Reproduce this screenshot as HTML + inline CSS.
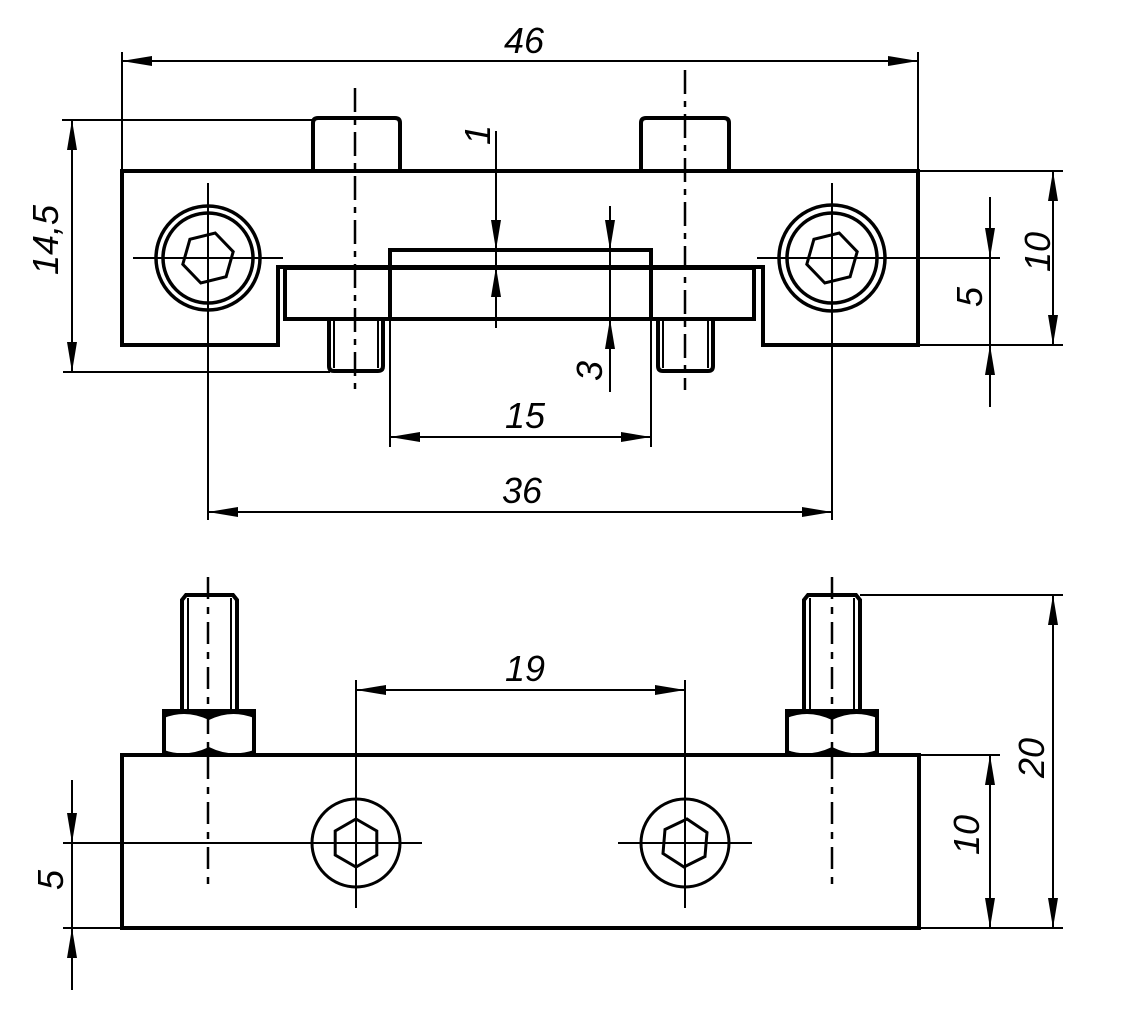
<!DOCTYPE html>
<html>
<head>
<meta charset="utf-8">
<style>
html,body{margin:0;padding:0;background:#fff;}
svg{display:block;}
text{font-family:"Liberation Sans",sans-serif;font-style:italic;font-size:36px;fill:#000;}
</style>
</head>
<body>
<svg width="1131" height="1023" viewBox="0 0 1131 1023" xmlns="http://www.w3.org/2000/svg">
<rect width="1131" height="1023" fill="#fff"/>

<!-- ================= TOP VIEW ================= -->
<g fill="none" stroke="#000" stroke-width="2">
  <!-- 46 dimension -->
  <line x1="122" y1="61" x2="918" y2="61"/>
  <line x1="122" y1="52" x2="122" y2="171"/>
  <line x1="918" y1="52" x2="918" y2="171"/>
  <!-- 14,5 dimension -->
  <line x1="62" y1="120" x2="313" y2="120"/>
  <line x1="63" y1="372" x2="330" y2="372"/>
  <line x1="72" y1="120" x2="72" y2="372"/>
  <!-- 1 dimension -->
  <line x1="496" y1="131" x2="496" y2="328"/>
  <!-- 3 dimension -->
  <line x1="610" y1="206" x2="610" y2="392"/>
  <!-- 15 dimension -->
  <line x1="390" y1="437" x2="651" y2="437"/>
  <line x1="390" y1="319" x2="390" y2="447"/>
  <line x1="651" y1="319" x2="651" y2="447"/>
  <!-- 36 dimension / screw vertical center lines -->
  <line x1="208" y1="512" x2="832" y2="512"/>
  <line x1="208" y1="183" x2="208" y2="520"/>
  <line x1="832" y1="183" x2="832" y2="520"/>
  <!-- screw horizontal center lines -->
  <line x1="133" y1="258" x2="283" y2="258"/>
  <line x1="757" y1="258" x2="1000" y2="258"/>
  <!-- 10 dimension right -->
  <line x1="920" y1="171" x2="1063" y2="171"/>
  <line x1="920" y1="345" x2="1063" y2="345"/>
  <line x1="1053" y1="171" x2="1053" y2="345"/>
  <!-- 5 dimension right -->
  <line x1="990" y1="197" x2="990" y2="407"/>
  <!-- dash-dot center lines -->
  <line x1="355" y1="88" x2="355" y2="390" stroke-width="2.5" stroke-dasharray="24 7 6 7"/>
  <line x1="685" y1="70" x2="685" y2="390" stroke-width="2.5" stroke-dasharray="24 7 6 7"/>
</g>

<g fill="none" stroke="#000" stroke-width="4" stroke-linejoin="miter">
  <!-- body -->
  <path d="M122,345 L122,171 L918,171 L918,345 L763,345 L763,267 L278,267 L278,345 Z"/>
  <!-- inner bar -->
  <rect x="285" y="268" width="469" height="51"/>
  <!-- upper block -->
  <path d="M390,319 L390,250 L651,250 L651,319"/>
  <!-- top pins -->
  <path d="M313,171 L313,123 Q313,118 318,118 L395,118 Q400,118 400,123 L400,171"/>
  <path d="M641,171 L641,123 Q641,118 646,118 L724,118 Q729,118 729,123 L729,171"/>
  <!-- lower pins -->
  <path d="M329,319 L329,366 Q329,371 334,371 L378,371 Q383,371 383,366 L383,319"/>
  <path d="M658,319 L658,366 Q658,371 663,371 L708,371 Q713,371 713,366 L713,319"/>
</g>
<g fill="none" stroke="#000" stroke-width="2">
  <line x1="334" y1="319" x2="334" y2="368"/>
  <line x1="378" y1="319" x2="378" y2="368"/>
  <line x1="663" y1="319" x2="663" y2="368"/>
  <line x1="708" y1="319" x2="708" y2="368"/>
</g>

<!-- top-view screws -->
<g fill="none" stroke="#000" stroke-width="3.5">
  <circle cx="208" cy="258" r="52"/>
  <circle cx="208" cy="258" r="45"/>
  <polygon points="215.2,233 233.2,251.7 226.1,276.7 200.8,283 182.8,264.3 189.9,239.3" stroke-width="3"/>
  <circle cx="832" cy="258" r="53"/>
  <circle cx="832" cy="258" r="45"/>
  <polygon points="839.2,233 857.2,251.7 850.1,276.7 824.8,283 806.8,264.3 813.9,239.3" stroke-width="3"/>
</g>

<!-- top-view arrows -->
<g fill="#000" stroke="none">
  <polygon points="122,61 152,56 152,66"/>
  <polygon points="918,61 888,56 888,66"/>
  <polygon points="72,120 67,150 77,150"/>
  <polygon points="72,372 67,342 77,342"/>
  <polygon points="496,250 491,220 501,220"/>
  <polygon points="496,267 491,297 501,297"/>
  <polygon points="610,250 605,220 615,220"/>
  <polygon points="610,319 605,349 615,349"/>
  <polygon points="390,437 420,432 420,442"/>
  <polygon points="651,437 621,432 621,442"/>
  <polygon points="208,512 238,507 238,517"/>
  <polygon points="832,512 802,507 802,517"/>
  <polygon points="1053,171 1048,201 1058,201"/>
  <polygon points="1053,345 1048,315 1058,315"/>
  <polygon points="990,258 985,228 995,228"/>
  <polygon points="990,345 985,375 995,375"/>
</g>

<!-- top-view texts -->
<text x="524" y="53" text-anchor="middle">46</text>
<text transform="translate(45,240) rotate(-90)" text-anchor="middle" dy="13">14,5</text>
<text transform="translate(477,135) rotate(-90)" text-anchor="middle" dy="13">1</text>
<text transform="translate(589,371) rotate(-90)" text-anchor="middle" dy="13">3</text>
<text x="525" y="428" text-anchor="middle">15</text>
<text x="522" y="503" text-anchor="middle">36</text>
<text transform="translate(1037,252) rotate(-90)" text-anchor="middle" dy="13">10</text>
<text transform="translate(969,297) rotate(-90)" text-anchor="middle" dy="13">5</text>

<!-- ================= BOTTOM VIEW ================= -->
<g fill="none" stroke="#000" stroke-width="2">
  <!-- 19 dimension -->
  <line x1="356" y1="690" x2="685" y2="690"/>
  <line x1="356" y1="680" x2="356" y2="908"/>
  <line x1="685" y1="680" x2="685" y2="908"/>
  <!-- horizontal center lines -->
  <line x1="63" y1="843" x2="422" y2="843"/>
  <line x1="618" y1="843" x2="752" y2="843"/>
  <!-- 5 left -->
  <line x1="72" y1="780" x2="72" y2="990"/>
  <line x1="63" y1="928" x2="122" y2="928"/>
  <!-- 10 right -->
  <line x1="920" y1="755" x2="1000" y2="755"/>
  <line x1="990" y1="755" x2="990" y2="928"/>
  <!-- 20 -->
  <line x1="860" y1="595" x2="1063" y2="595"/>
  <line x1="920" y1="928" x2="1063" y2="928"/>
  <line x1="1053" y1="595" x2="1053" y2="928"/>
  <!-- dash-dot center lines -->
  <line x1="208" y1="577" x2="208" y2="885" stroke-width="2.5" stroke-dasharray="22 8 7 8"/>
  <line x1="832" y1="577" x2="832" y2="885" stroke-width="2.5" stroke-dasharray="22 8 7 8"/>
  <!-- thread lines -->
  <line x1="188" y1="598" x2="188" y2="711"/>
  <line x1="231" y1="598" x2="231" y2="711"/>
  <line x1="810" y1="598" x2="810" y2="711"/>
  <line x1="854" y1="598" x2="854" y2="711"/>
</g>

<g fill="none" stroke="#000" stroke-width="4">
  <rect x="122" y="755" width="797" height="173"/>
  <!-- left stud & nut -->
  <path d="M182,711 L182,600 L186,595 L233,595 L237,600 L237,711"/>
  <rect x="164" y="711" width="90" height="44"/>
  <!-- right stud & nut -->
  <path d="M804,711 L804,600 L808,595 L856,595 L860,600 L860,711"/>
  <rect x="787" y="711" width="90" height="44"/>
</g>
<!-- nut arcs -->
<g fill="#000" stroke="none">
  <path d="M164,711 L254,711 L254,718 Q231,709 209,720 Q186,709 164,718 Z"/>
  <path d="M164,757 L164,750 Q186,758 209,747 Q231,758 254,750 L254,757 Z"/>
  <path d="M787,711 L877,711 L877,718 Q854,709 832,720 Q809,709 787,718 Z"/>
  <path d="M787,757 L787,750 Q809,758 832,747 Q854,758 877,750 L877,757 Z"/>
</g>

<!-- bottom screws -->
<g fill="none" stroke="#000" stroke-width="3">
  <circle cx="356" cy="843" r="44"/>
  <polygon points="356,819 376.8,831 376.8,855 356,867 335.2,855 335.2,831"/>
  <circle cx="685" cy="843" r="44"/>
  <polygon points="687,819 707,832.5 705,856.5 684,867 663,853.5 665,829.5"/>
</g>

<!-- bottom arrows -->
<g fill="#000" stroke="none">
  <polygon points="356,690 386,685 386,695"/>
  <polygon points="685,690 655,685 655,695"/>
  <polygon points="72,843 67,813 77,813"/>
  <polygon points="72,928 67,958 77,958"/>
  <polygon points="990,755 985,785 995,785"/>
  <polygon points="990,928 985,898 995,898"/>
  <polygon points="1053,595 1048,625 1058,625"/>
  <polygon points="1053,928 1048,898 1058,898"/>
</g>

<!-- bottom texts -->
<text x="525" y="681" text-anchor="middle">19</text>
<text transform="translate(50,880) rotate(-90)" text-anchor="middle" dy="13">5</text>
<text transform="translate(966,835) rotate(-90)" text-anchor="middle" dy="13">10</text>
<text transform="translate(1031,758) rotate(-90)" text-anchor="middle" dy="13">20</text>
</svg>
</body>
</html>
